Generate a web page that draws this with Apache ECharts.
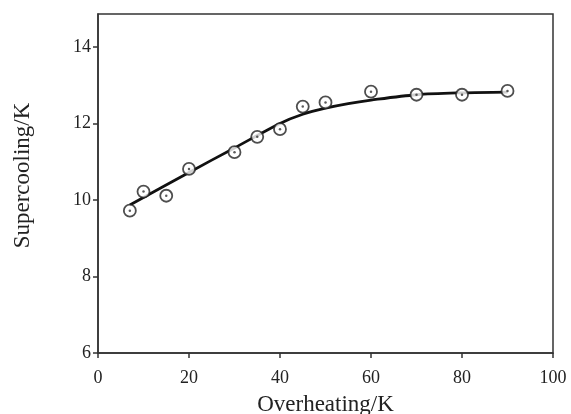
<!DOCTYPE html>
<html>
<head>
<meta charset="utf-8">
<script src="https://cdn.jsdelivr.net/npm/echarts@6/dist/echarts.min.js"></script>
<style>
  html, body { margin: 0; padding: 0; background: #fff; }
  #chart { width: 571px; height: 414px; }
</style>
</head>
<body>
<div id="chart"></div>
<script>
// measured points (overheating K, supercooling K)
var overheating = [7, 10, 15, 20, 30, 35, 40, 45, 50, 60, 70, 80, 90];
var supercooling = [9.72, 10.22, 10.11, 10.81, 11.25, 11.65, 11.85, 12.44, 12.55, 12.83, 12.75, 12.75, 12.85];

// fitted curve
var fitX = [7, 20, 30, 40, 45, 50, 55, 60, 70, 80, 90];
var fitY = [9.87, 10.72, 11.36, 12.0, 12.24, 12.4, 12.52, 12.61, 12.75, 12.8, 12.82];

var xTicks = [0, 20, 40, 60, 80, 100];
var yTicks = [6, 8, 10, 12, 14];

var chartApp = {
    chart: null,
    pairs: function (xs, ys) {
        var out = [];
        for (var i = 0; i < xs.length; i++) {
            out.push([xs[i], ys[i]]);
        }
        return out;
    },
    init: function () {
        this.chart = echarts.init(document.getElementById('chart'));
        var font = '"Liberation Serif", "DejaVu Serif", serif';
        var points = this.pairs(overheating, supercooling);
        this.chart.setOption({
            animation: false,
            grid: {
                left: 98, right: 18, top: 14, bottom: 61,
                outerBoundsMode: 'none',
                containLabel: false,
                show: true,
                borderColor: '#333',
                borderWidth: 1.5
            },
            xAxis: {
                type: 'value',
                min: 0, max: 100, interval: 20,
                name: 'Overheating/K',
                nameLocation: 'middle',
                nameGap: 40,
                nameTextStyle: { fontFamily: font, fontSize: 23, color: '#222' },
                axisLine: { show: true, lineStyle: { color: '#333', width: 1.5 } },
                axisTick: { show: true, inside: false, length: 5, lineStyle: { color: '#333', width: 1.5 } },
                axisLabel: { customValues: xTicks, margin: 16, fontFamily: font, fontSize: 18, color: '#222' },
                splitLine: { show: false }
            },
            yAxis: {
                type: 'value',
                min: 6, max: 14.86,
                name: 'Supercooling/K',
                nameLocation: 'middle',
                nameGap: 64,
                nameTextStyle: { fontFamily: font, fontSize: 23, color: '#222', padding: [0, 0, 0, 16] },
                axisLine: { show: true, lineStyle: { color: '#333', width: 1.5 } },
                axisTick: { show: true, inside: false, length: 5, customValues: yTicks, lineStyle: { color: '#333', width: 1.5 } },
                axisLabel: { customValues: yTicks, margin: 7, fontFamily: font, fontSize: 18, color: '#222' },
                splitLine: { show: false }
            },
            series: [
                {
                    type: 'line',
                    data: this.pairs(fitX, fitY),
                    smooth: 0.3,
                    showSymbol: false,
                    lineStyle: { color: '#111', width: 2.8 },
                    z: 1
                },
                {
                    type: 'scatter',
                    data: points,
                    symbol: 'circle',
                    symbolSize: 12,
                    itemStyle: { color: '#fff', borderColor: '#222', borderWidth: 1.8 },
                    z: 2
                },
                {
                    type: 'scatter',
                    data: points,
                    symbol: 'circle',
                    symbolSize: 2.5,
                    itemStyle: { color: '#333' },
                    z: 3
                }
            ]
        });
    }
};

chartApp.init();
</script>
</body>
</html>
